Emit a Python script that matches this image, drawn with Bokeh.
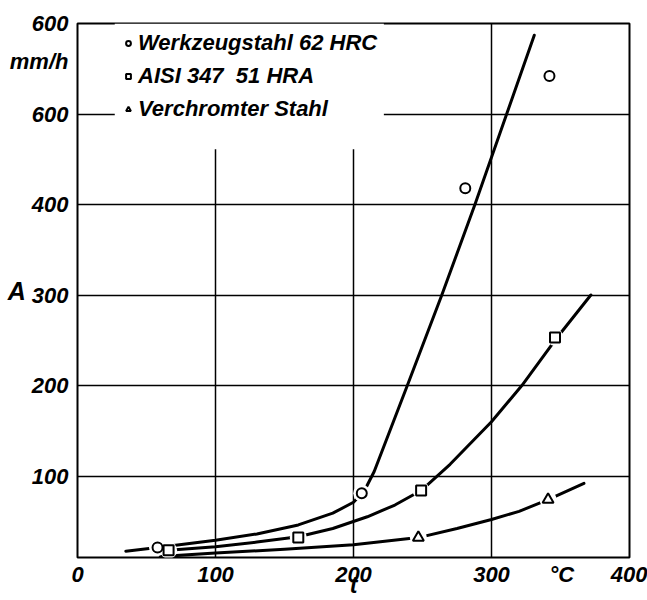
from bokeh.plotting import figure
from bokeh.models import FixedTicker, Legend, LegendItem, BoxAnnotation
from bokeh.embed import file_html
from bokeh.resources import INLINE

# ---- data ----
series_names = ["Werkzeugstahl 62 HRC", "AISI 347  51 HRA", "Verchromter Stahl"]

wz_pts_t = [58, 206, 281, 342]
wz_pts_a = [21, 81, 418, 542]
aisi_pts_t = [66, 160, 249, 346]
aisi_pts_a = [18, 32, 84, 253]
vc_pts_t = [247, 341]
vc_pts_a = [32, 74]

wz_curve_t = [35, 58, 100, 130, 160, 185, 200, 208, 215, 239, 264, 288, 311, 331]
wz_curve_a = [17, 21, 29, 36, 46, 59, 71, 84, 105, 200, 300, 400, 500, 587]
aisi_curve_t = [66, 100, 130, 160, 185, 210, 230, 249, 270, 300, 322, 346, 372]
aisi_curve_a = [18, 22, 27, 33, 42, 55, 68, 84, 113, 160, 200, 250, 300]
vc_curve_t = [60, 100, 150, 200, 247, 275, 300, 320, 341, 367]
vc_curve_a = [11, 15, 19, 24, 32, 42, 52, 61, 74, 92]

x_ticks = [0, 100, 200, 300, 351, 400]
x_tick_labels = {351: "°C"}
y_ticks = [100, 200, 300, 400, 500, 558, 600]
y_tick_labels = {500: "600", 558: "mm/h"}
x_grid = [100, 200, 300]
y_grid = [100, 200, 300, 400, 500]

FONT = "Liberation Sans"

p = figure(width=647, height=600, x_range=(0, 400), y_range=(10, 600),
           output_backend="svg", toolbar_location=None,
           min_border_left=77, min_border_right=18, min_border_top=23, min_border_bottom=43)

p.outline_line_color = "black"
p.outline_line_width = 2
p.outline_line_alpha = 1.0
p.background_fill_color = "white"
p.border_fill_color = "white"

p.xgrid.ticker = FixedTicker(ticks=x_grid)
p.ygrid.ticker = FixedTicker(ticks=y_grid)
for g in (p.xgrid, p.ygrid):
    g.grid_line_color = "black"
    g.grid_line_width = 1.5
    g.grid_line_alpha = 1.0

p.xaxis.ticker = FixedTicker(ticks=x_ticks)
p.xaxis.major_label_overrides = x_tick_labels
p.yaxis.ticker = FixedTicker(ticks=y_ticks)
p.yaxis.major_label_overrides = y_tick_labels
for ax in (p.xaxis, p.yaxis):
    ax.axis_line_color = None
    ax.major_tick_line_color = None
    ax.minor_tick_line_color = None
    ax.major_label_text_font = FONT
    ax.major_label_text_font_style = "bold italic"
    ax.major_label_text_font_size = "22px"
    ax.major_label_text_color = "black"
    ax.axis_label_text_font = FONT
    ax.axis_label_text_font_style = "bold italic"
    ax.axis_label_text_color = "black"
p.xaxis.major_label_standoff = -2
p.xaxis.major_label_text_line_height = 0.9
p.yaxis.major_label_standoff = 3

p.xaxis.axis_label = "t"
p.xaxis.axis_label_text_font_size = "23px"
p.xaxis.axis_label_text_line_height = 0.9
p.xaxis.axis_label_standoff = -18
p.yaxis.axis_label = "A"
p.yaxis.axis_label_orientation = "horizontal"
p.yaxis.axis_label_text_font_size = "25px"
p.yaxis.axis_label_standoff = -19

# white block behind the legend (interrupts grid lines)
p.add_layout(BoxAnnotation(left=27, right=222, bottom=461, fill_color="white", fill_alpha=1.0,
                           line_alpha=0, level="underlay"))

# curves
for xs, ys in ((wz_curve_t, wz_curve_a), (aisi_curve_t, aisi_curve_a), (vc_curve_t, vc_curve_a)):
    p.line(xs, ys, line_color="black", line_width=3, line_join="round", line_cap="round")

# white halos to leave gaps around the markers
for xs, ys in ((wz_pts_t, wz_pts_a), (aisi_pts_t, aisi_pts_a), (vc_pts_t, vc_pts_a)):
    p.scatter(xs, ys, marker="circle", size=17, fill_color="white", line_color=None)

r_wz = p.scatter(wz_pts_t, wz_pts_a, marker="circle", size=10, fill_color="white",
                 line_color="black", line_width=2)
r_aisi = p.scatter(aisi_pts_t, aisi_pts_a, marker="square", size=10, fill_color="white",
                   line_color="black", line_width=2)
r_vc = p.scatter(vc_pts_t, vc_pts_a, marker="triangle", size=11, fill_color="white",
                 line_color="black", line_width=2)

legend = Legend(items=[LegendItem(label=series_names[0], renderers=[r_wz]),
                       LegendItem(label=series_names[1], renderers=[r_aisi]),
                       LegendItem(label=series_names[2], renderers=[r_vc])],
                location=(45, 435), orientation="vertical",
                background_fill_alpha=0, border_line_alpha=0,
                padding=0, margin=0, spacing=7,
                label_height=22, glyph_height=22, glyph_width=12, label_standoff=4,
                label_text_font=FONT, label_text_font_style="bold italic",
                label_text_font_size="22px", label_text_color="black")
p.add_layout(legend)

open("out.html", "w").write(file_html(p, INLINE))
